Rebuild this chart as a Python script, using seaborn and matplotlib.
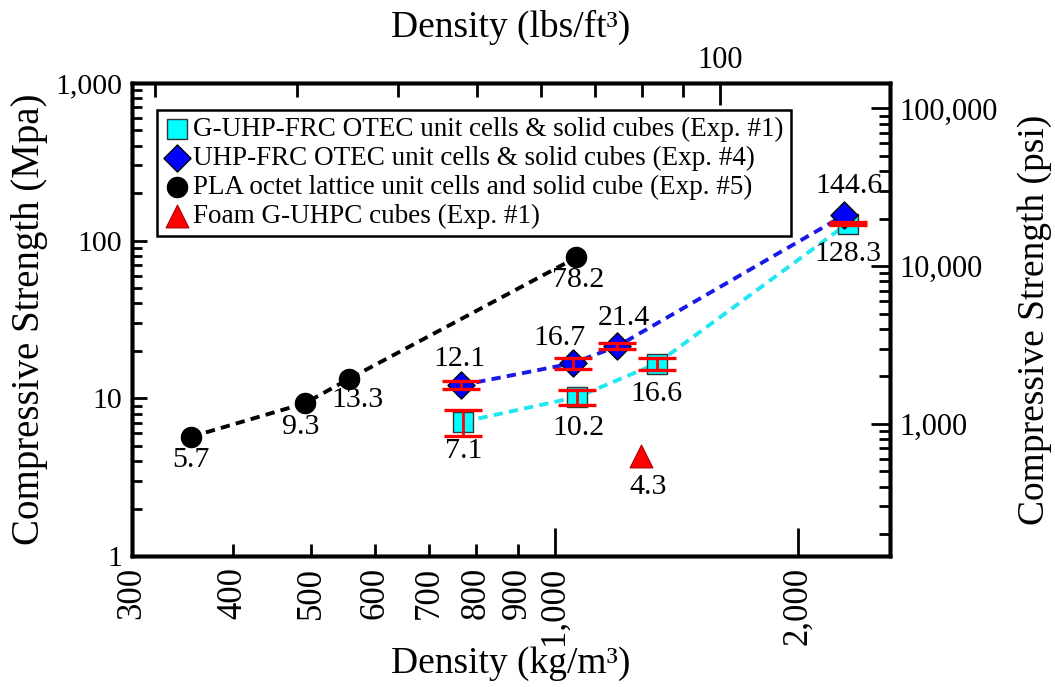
import matplotlib
matplotlib.use("Agg")
import matplotlib.pyplot as plt
import numpy as np
import pandas as pd
import seaborn as sns
from matplotlib.ticker import FixedLocator, FixedFormatter, NullFormatter

# ---- data: density (kg/m^3) vs compressive strength (MPa) ----
gfrc_label = "G-UHP-FRC OTEC unit cells & solid cubes (Exp. #1)"
gfrc_density = [771, 1067, 1338, 2304]
gfrc_strength = [7.1, 10.2, 16.6, 128.3]
gfrc_err = [1.3, 1.1, 1.5, 2.5]

uhp_label = "UHP-FRC OTEC unit cells & solid cubes (Exp. #4)"
uhp_density = [766, 1054, 1196, 2280]
uhp_strength = [12.1, 16.7, 21.4, 144.6]
uhp_err = [0.7, 1.3, 0.9, 0.0]

pla_label = "PLA octet lattice unit cells and solid cube (Exp. #5)"
pla_density = [355, 491, 557, 1064]
pla_strength = [5.7, 9.3, 13.3, 78.2]

foam_label = "Foam G-UHPC cubes (Exp. #1)"
foam_density = [1278]
foam_strength = [4.3]

x_minor_ticks = [300, 400, 500, 600, 700, 800, 900]
x_major_ticks = [1000, 2000]
x_major_labels = ["1,000", "2,000"]
y_ticks = [1, 10, 100, 1000]
y_tick_labels = ["1", "10", "100", "1,000"]
psi_ticks = [1e3, 1e4, 1e5]
psi_tick_labels = ["1,000", "10,000", "100,000"]
lbs_minor_ticks = [20, 30, 40, 50, 60, 70, 80, 90]
lbs_major_ticks = [100]

KG_PER_LBFT3 = 16.0185
PSI_PER_MPA = 145.038

sns.set_theme(style="ticks")
plt.rcParams["font.family"] = ["Liberation Serif", "DejaVu Serif"]
plt.rcParams["axes.linewidth"] = 2.5
for key in ("text.color", "axes.labelcolor", "xtick.color", "ytick.color",
            "axes.edgecolor"):
    plt.rcParams[key] = "black"

fig = plt.figure(figsize=(10.55, 6.87), dpi=100)
ax = fig.add_axes([0.125, 0.1907, 0.7186, 0.6885])
ax.set_xscale("log")
ax.set_yscale("log")
XMIN, XMAX = 300, 2600
YMIN, YMAX = 1, 1000

dash = (0, (2.4, 1.6))
gfrc = pd.DataFrame({"density": gfrc_density, "strength": gfrc_strength})
uhp = pd.DataFrame({"density": uhp_density, "strength": uhp_strength})
pla = pd.DataFrame({"density": pla_density, "strength": pla_strength})
foam = pd.DataFrame({"density": foam_density, "strength": foam_strength})

sns.lineplot(data=pla, x="density", y="strength", ax=ax, color="black",
             lw=2.8, linestyle=dash, legend=False, zorder=2)
sns.lineplot(data=gfrc, x="density", y="strength", ax=ax, color="#22e6f2",
             lw=2.8, linestyle=dash, legend=False, zorder=2)
sns.lineplot(data=uhp, x="density", y="strength", ax=ax, color="#1a1ae8",
             lw=2.8, linestyle=dash, legend=False, zorder=2)

sns.scatterplot(data=gfrc, x="density", y="strength", ax=ax, marker="s",
                s=200, color="#00ffff", edgecolor="#333333", linewidth=1.0,
                label=gfrc_label, zorder=3)
sns.scatterplot(data=uhp, x="density", y="strength", ax=ax, marker="D",
                s=190, color="#0000ff", edgecolor="black", linewidth=1.0,
                label=uhp_label, zorder=3)
sns.scatterplot(data=pla, x="density", y="strength", ax=ax, marker="o",
                s=210, color="black", edgecolor="black", linewidth=1.0,
                label=pla_label, zorder=3)
sns.scatterplot(data=foam, x="density", y="strength", ax=ax, marker="^",
                s=270, color="#ff0000", edgecolor="#aa0000", linewidth=0.8,
                label=foam_label, zorder=3)

# error bars (drawn over the markers)
ax.errorbar(gfrc_density, gfrc_strength, yerr=gfrc_err, fmt="none",
            ecolor="red", elinewidth=2.0, capsize=14, capthick=2.4, zorder=5)
ax.errorbar(uhp_density[:3], uhp_strength[:3], yerr=uhp_err[:3], fmt="none",
            ecolor="red", elinewidth=2.0, capsize=14, capthick=2.4, zorder=5)

# value labels (offsets in points)
def label_points(xs, ys, offsets):
    for x, y, (dx, dy) in zip(xs, ys, offsets):
        ax.annotate(f"{y:g}", (x, y), xytext=(dx, dy), textcoords="offset points",
                    ha="center", va="center", fontsize=21.5, zorder=6)

label_points(pla_density, pla_strength, [(0, -17), (-3, -17), (6, -15), (1, -16)])
label_points(uhp_density, uhp_strength, [(-1, 19), (-10, 18), (5, 20), (4, 21)])
label_points(gfrc_density, gfrc_strength, [(0, -21), (1, -22), (0, -22), (0, -22)])
label_points(foam_density, foam_strength, [(5, -22)])

ax.set_xlim(XMIN, XMAX)
ax.set_ylim(YMIN, YMAX)

# bottom / left axes
ax.xaxis.set_major_locator(FixedLocator(x_major_ticks))
ax.xaxis.set_major_formatter(FixedFormatter(x_major_labels))
ax.xaxis.set_minor_locator(FixedLocator(x_minor_ticks))
ax.xaxis.set_minor_formatter(FixedFormatter([str(v) for v in x_minor_ticks]))
ax.yaxis.set_major_locator(FixedLocator(y_ticks))
ax.yaxis.set_major_formatter(FixedFormatter(y_tick_labels))
y_minor = [m * 10 ** e for e in range(0, 3) for m in range(2, 10)]
ax.yaxis.set_minor_locator(FixedLocator(y_minor))
ax.yaxis.set_minor_formatter(NullFormatter())

ax.tick_params(axis="x", which="both", direction="in", top=False, labelsize=25,
               labelrotation=90, pad=8, width=2)
ax.tick_params(axis="x", which="major", length=20)
ax.tick_params(axis="x", which="minor", length=9)
ax.tick_params(axis="y", which="both", direction="in", right=False, labelsize=21.5,
               pad=7, width=2)
ax.tick_params(axis="y", which="major", length=11)
ax.tick_params(axis="y", which="minor", length=7)

ax.set_xlabel("Density (kg/m³)", fontsize=27)
ax.set_ylabel("Compressive Strength (Mpa)", fontsize=28)
ax.xaxis.set_label_coords(0.5, -0.228)
ax.xaxis.label.set_va("center")
ax.yaxis.set_label_coords(-0.135, 0.5)
ax.yaxis.label.set_va("center")

# right axis in psi
ax_r = ax.twinx()
ax_r.set_yscale("log")
ax_r.set_ylim(YMIN * PSI_PER_MPA, YMAX * PSI_PER_MPA)
ax_r.yaxis.set_major_locator(FixedLocator(psi_ticks))
ax_r.yaxis.set_major_formatter(FixedFormatter(psi_tick_labels))
psi_minor = [m * 10 ** e for e in range(2, 6) for m in range(2, 10)
             if YMIN * PSI_PER_MPA < m * 10 ** e < YMAX * PSI_PER_MPA]
ax_r.yaxis.set_minor_locator(FixedLocator(psi_minor))
ax_r.yaxis.set_minor_formatter(NullFormatter())
ax_r.tick_params(axis="y", which="both", direction="in", labelsize=22, pad=7, width=2)
ax_r.tick_params(axis="y", which="major", length=14)
ax_r.tick_params(axis="y", which="minor", length=8)
ax_r.set_ylabel("Compressive Strength (psi)", fontsize=27, rotation=90)
ax_r.yaxis.set_label_coords(1.191, 0.5)
ax_r.yaxis.label.set_va("center")

# top axis in lbs/ft^3
ax_t = ax.twiny()
ax_t.set_xscale("log")
ax_t.set_xlim(XMIN / KG_PER_LBFT3, XMAX / KG_PER_LBFT3)
ax_t.xaxis.set_major_locator(FixedLocator(lbs_major_ticks))
ax_t.xaxis.set_major_formatter(FixedFormatter([str(v) for v in lbs_major_ticks]))
ax_t.xaxis.set_minor_locator(FixedLocator(lbs_minor_ticks))
ax_t.xaxis.set_minor_formatter(NullFormatter())
ax_t.tick_params(axis="x", which="both", direction="in", labelsize=22, pad=6, width=2)
ax_t.tick_params(axis="x", which="major", length=16)
ax_t.tick_params(axis="x", which="minor", length=10)
ax_t.set_xlabel("Density (lbs/ft³)", fontsize=27)
ax_t.xaxis.set_label_coords(0.5, 1.118)
ax_t.xaxis.label.set_va("center")

for a in (ax, ax_r, ax_t):
    for sp in a.spines.values():
        sp.set_linewidth(2.5)
        sp.set_color("black")

leg = ax.legend(loc="upper left", bbox_to_anchor=(0.033, 0.943), borderaxespad=0,
                fontsize=19.5, frameon=True, fancybox=False, edgecolor="black",
                framealpha=1, handletextpad=0.1, handlelength=1.0,
                labelspacing=0.15, borderpad=0.25)
leg.get_frame().set_linewidth(1.8)
leg.set_zorder(10)

fig.savefig("out.png", dpi=100)
